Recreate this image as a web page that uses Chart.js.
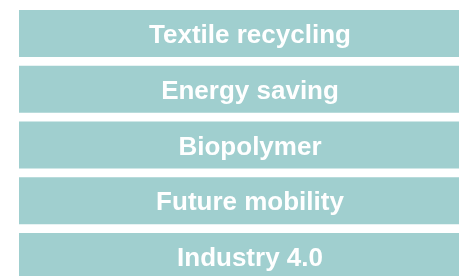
<!DOCTYPE html>
<html>
<head>
<meta charset="utf-8">
<script src="https://cdn.jsdelivr.net/npm/chart.js@4/dist/chart.umd.min.js"></script>
<style>
  html, body { margin: 0; padding: 0; background: #fff; overflow: hidden; }
  #wrap { width: 459px; height: 276px; overflow: hidden; position: relative; }
  #mycanvas { position: absolute; left: 0; top: 0; }
</style>
</head>
<body>
<div id="wrap"><canvas id="mycanvas" width="500" height="290"></canvas></div>
<script>
var topics = ["Textile recycling", "Energy saving", "Biopolymer", "Future mobility", "Industry 4.0"];
var weights = [1, 1, 1, 1, 1];

// writes each topic name in the middle of its box
var centerLabels = {
    id: 'centerLabels',
    afterDatasetsDraw: function(chart) {
        var ctx = chart.ctx;
        var meta = chart.getDatasetMeta(0);
        ctx.save();
        ctx.fillStyle = "#ffffff";
        ctx.font = "bold 26px Arial";
        ctx.textAlign = "center";
        ctx.textBaseline = "alphabetic";
        meta.data.forEach(function(bar, i) {
            ctx.fillText(chart.data.labels[i], (bar.x + bar.base) / 2, bar.y + 9.5);
        });
        ctx.restore();
    }
};

var ctx = document.getElementById("mycanvas");

var topicChart = new Chart(ctx, {
    type: 'bar',
    data: {
        labels: topics,
        datasets: [{
            data: weights,
            backgroundColor: "rgb(160, 207, 207)",
            borderWidth: 0,
            barPercentage: 0.843,
            categoryPercentage: 1
        }]
    },
    options: {
        indexAxis: 'y',
        responsive: false,
        animation: false,
        layout: { padding: { left: 19, right: 19, top: 5.6, bottom: 5.6 } },
        scales: {
            x: { display: false, min: 0, max: 1 },
            y: { display: false }
        },
        plugins: {
            legend: { display: false },
            tooltip: { enabled: false }
        }
    },
    plugins: [centerLabels]
});
</script>
</body>
</html>
